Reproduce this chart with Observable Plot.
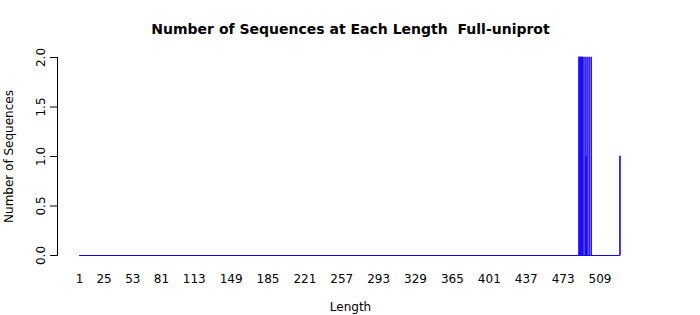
<!DOCTYPE html>
<html>
<head>
<meta charset="utf-8">
<script src="https://cdn.jsdelivr.net/npm/d3@7"></script>
<script src="https://cdn.jsdelivr.net/npm/@observablehq/plot@0.6"></script>
<style>
  html, body { margin: 0; padding: 0; background: #fff; }
  #chart svg { display: block; }
</style>
</head>
<body>
<div id="chart"></div>
<script>
// Data
const lengths = [489, 490, 491, 492, 493, 495, 496, 497, 499, 501, 529];
const counts  = [2, 2, 2, 2, 2, 2, 1, 2, 2, 2, 1];
const minLength = 1;
const maxLength = 529;
const xTicks = [1, 25, 53, 81, 113, 149, 185, 221, 257, 293, 329, 365, 401, 437, 473, 509];
const yTicks = [0, 0.5, 1, 1.5, 2];
const yTickLabels = ["0.0", "0.5", "1.0", "1.5", "2.0"];
const titleText = "Number of Sequences at Each Length  Full-uniprot";
const xLabel = "Length";
const yLabel = "Number of Sequences";

const bars = lengths.map((len, i) => ({len, count: counts[i]}));
const blue = "#1400f5";
const font = "DejaVu Sans, sans-serif";

const chart = Plot.plot({
  width: 700,
  height: 315,
  marginLeft: 57,
  marginRight: 57,
  marginTop: 57,
  marginBottom: 60,
  style: {fontFamily: font, fontSize: "12px", background: "#fff", color: "#000"},
  x: {type: "linear", domain: [-20.5, 551.5], axis: null},
  y: {domain: [0, 2], axis: null},
  marks: [
    // baseline drawn by zero-height bars
    Plot.ruleY([0], {x1: minLength, x2: maxLength, stroke: blue, strokeWidth: 1}),
    Plot.rectY(bars, {x1: d => d.len - 0.45, x2: d => d.len + 0.45, y: "count", fill: blue, stroke: blue, strokeWidth: 0.6}),
    // y axis (R style)
    Plot.frame({anchor: "left", stroke: "#000"}),
    Plot.axisY({ticks: yTicks, tickSize: 7, tickFormat: () => "", label: null, stroke: "#000"}),
    Plot.text(yTicks, {y: d => d, text: (d, i) => yTickLabels[i], frameAnchor: "left", dx: -16, rotate: -90, textAnchor: "middle", lineAnchor: "middle", fill: "#000", fontSize: 12}),
    // x tick labels
    Plot.text(xTicks, {x: d => d, text: d => String(d), frameAnchor: "bottom", dy: 24, lineAnchor: "middle", textAnchor: "middle", fill: "#000", fontSize: 12}),
    // axis titles
    Plot.text([xLabel], {frameAnchor: "bottom", dy: 52, lineAnchor: "middle", textAnchor: "middle", fill: "#000", fontSize: 12}),
    Plot.text([yLabel], {frameAnchor: "left", dx: -48, rotate: -90, lineAnchor: "middle", textAnchor: "middle", fill: "#000", fontSize: 12}),
    // title
    Plot.text([titleText], {frameAnchor: "top", dy: -28, lineAnchor: "middle", textAnchor: "middle", fill: "#000", fontSize: 14, fontWeight: "bold"})
  ]
});
document.getElementById("chart").appendChild(chart);
</script>
</body>
</html>
